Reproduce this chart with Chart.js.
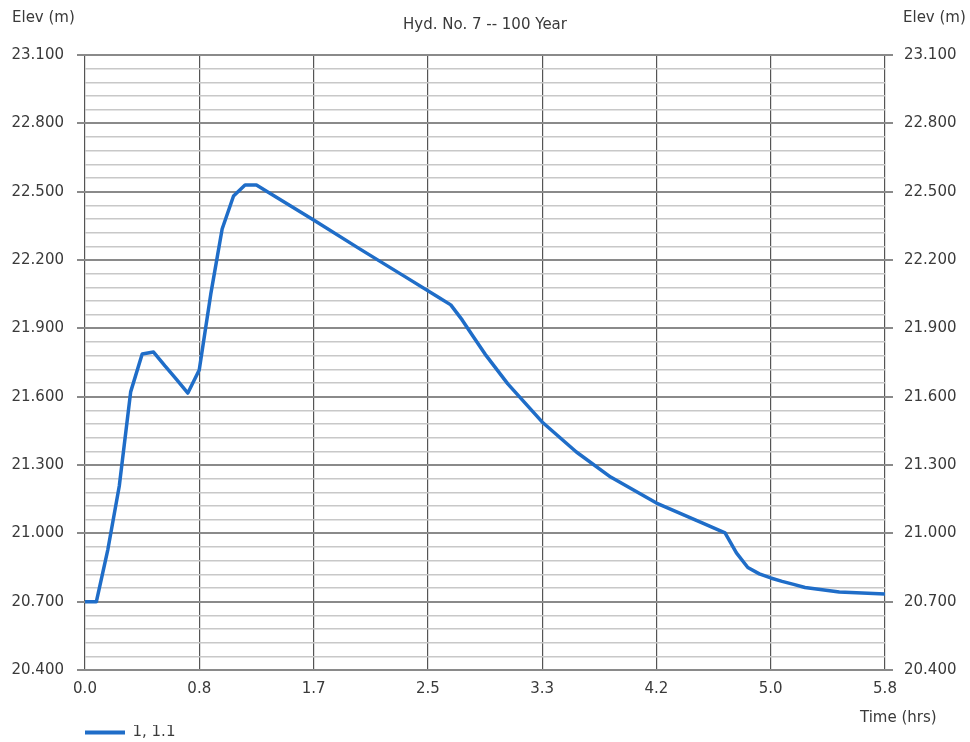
<!DOCTYPE html>
<html>
<head>
<meta charset="utf-8">
<script src="https://cdn.jsdelivr.net/npm/chart.js@4/dist/chart.umd.min.js"></script>
<style>
  html, body { margin: 0; padding: 0; background: #fff; }
  #wrap { width: 970px; height: 742px; position: relative; }
</style>
</head>
<body>
<div id="wrap"><canvas id="mainchart"></canvas></div>
<script>
// hydrograph elevation
const timeHrs = [0, 0.083, 0.167, 0.25, 0.333, 0.417, 0.5, 0.583, 0.667, 0.75, 0.833, 0.917, 1.0, 1.083, 1.167, 1.25, 1.333,
  1.667, 2.0, 2.333, 2.583, 2.667, 2.75, 2.833, 2.917, 3.083, 3.333, 3.583, 3.833, 4.167, 4.5, 4.667, 4.75, 4.833, 4.917, 5.0,
  5.083, 5.167, 5.25, 5.5, 5.833];
const elevM = [20.700, 20.700, 20.930, 21.208, 21.621, 21.787, 21.796, 21.735, 21.676, 21.616, 21.717, 22.050, 22.336, 22.481, 22.529, 22.529, 22.499,
  22.376, 22.250, 22.127, 22.034, 22.003, 21.937, 21.862, 21.787, 21.656, 21.489, 21.357, 21.247, 21.133, 21.046, 21.002, 20.914, 20.850, 20.822, 20.804,
  20.789, 20.776, 20.762, 20.742, 20.734];

const seriesName = '1, 1.1';
const chartTitle = 'Hyd. No. 7 -- 100 Year';
const yTitle = 'Elev (m)';
const xTitle = 'Time (hrs)';

// x ticks every 50 min, y major every 0.3 m with 5 minor steps
const xTickMinutes = [0, 50, 100, 150, 200, 250, 300, 350];
const yMin = 20.4, yMax = 23.1, yMajor = 0.3, yMinorPerMajor = 5;

const FONT = 'DejaVu Sans';
const TEXT = '#3a3a3a';

function yTicks() {
  var n = Math.round((yMax - yMin) / yMajor) * yMinorPerMajor;
  var out = [];
  for (var i = 0; i <= n; i++) out.push({ value: yMin + i * (yMax - yMin) / n });
  return out;
}

function isMajor(ctx) {
  return ctx.index % yMinorPerMajor === 0;
}

function yAxis(pos, pad) {
  return {
    type: 'linear',
    position: pos,
    min: yMin,
    max: yMax,
    afterBuildTicks: (s) => { s.ticks = yTicks(); },
    afterFit: (s) => { s.width = 75; },
    border: { display: false },
    grid: {
      drawOnChartArea: pos === 'left',
      color: (c) => isMajor(c) ? '#8a8a8a' : '#c8c8c8',
      lineWidth: (c) => isMajor(c) ? 2 : 1.5,
      tickColor: (c) => isMajor(c) ? '#8a8a8a' : 'rgba(0,0,0,0)',
      tickLength: 8
    },
    ticks: {
      autoSkip: false,
      padding: pad,
      color: TEXT,
      font: { family: FONT, size: 15 },
      callback: function(v, i) { return i % yMinorPerMajor === 0 ? Number(v).toFixed(3) : ''; }
    }
  };
}

const labelsPlugin = {
  id: 'axisLabels',
  afterDraw(chart) {
    const c = chart.ctx;
    const a = chart.chartArea;
    c.save();
    c.fillStyle = TEXT;
    c.font = '15px ' + FONT;
    c.textBaseline = 'middle';
    c.textAlign = 'left';
    c.fillText(yTitle, 12, 18);
    c.fillText(yTitle, a.right + 18, 18);
    c.fillText(xTitle, a.right - 25, 718);
    c.restore();
  }
};

const config = {
  type: 'line',
  data: {
    datasets: [{
      label: seriesName,
      data: timeHrs.map((t, i) => ({ x: t, y: elevM[i] })),
      borderColor: '#1f6dc8',
      backgroundColor: '#1f6dc8',
      borderWidth: 3.5,
      borderJoinStyle: 'round',
      pointRadius: 0,
      tension: 0,
      fill: false,
      yAxisID: 'y'
    }]
  },
  options: {
    responsive: true,
    maintainAspectRatio: false,
    animation: false,
    layout: { padding: { left: 10, right: 10, top: 0, bottom: -8 } },
    scales: {
      x: {
        type: 'linear',
        min: 0,
        max: 350 / 60,
        afterBuildTicks: (s) => { s.ticks = xTickMinutes.map(m => ({ value: m / 60 })); },
        afterFit: (s) => { s.height = 55; },
        border: { display: false },
        grid: { color: '#555', lineWidth: 1.2, tickLength: 0 },
        ticks: {
          autoSkip: false,
          maxRotation: 0,
          padding: 10,
          color: TEXT,
          font: { family: FONT, size: 15 },
          callback: (v) => Number(v).toFixed(1)
        }
      },
      y: yAxis('left', 13),
      y2: yAxis('right', 11)
    },
    plugins: {
      title: {
        display: true,
        text: chartTitle,
        color: TEXT,
        font: { family: FONT, size: 15, weight: 'normal' },
        padding: { top: 16, bottom: 21 }
      },
      legend: {
        display: true,
        position: 'bottom',
        align: 'start',
        fullSize: false,
        labels: {
          boxWidth: 40,
          boxHeight: 4,
          padding: 0,
          color: TEXT,
          font: { family: FONT, size: 15 },
          generateLabels: (chart) => Chart.defaults.plugins.legend.labels.generateLabels(chart)
            .map(l => Object.assign(l, { lineWidth: 0 }))
        }
      },
      tooltip: { enabled: false }
    }
  },
  plugins: [labelsPlugin]
};

new Chart(document.getElementById('mainchart'), config);
</script>
</body>
</html>
